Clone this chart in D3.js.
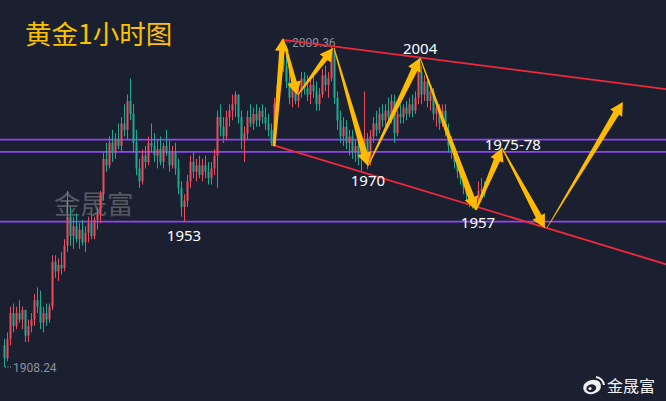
<!DOCTYPE html>
<html><head><meta charset="utf-8">
<script src="https://cdn.jsdelivr.net/npm/d3@7"></script>
<style>html,body{margin:0;padding:0;background:#1b2030;}svg{display:block}</style>
</head><body><svg id="c" width="666" height="401"></svg>
<script>
// ---- data (hourly gold candles) ----
const opens=[1915,1911,1917,1925,1921,1925,1923,1926,1918,1921,1923,1929,1927,1922,1925,1923,1927,1941,1938,1940,1939,1946,1955,1949,1952,1948,1951,1947,1950,1953,1949,1954,1956,1962,1973,1971,1978,1975,1979,1977,1984,1982,1991,1987,1978,1970,1966,1974,1972,1978,1977,1974,1976,1972,1977,1975,1971,1975,1970,1964,1958,1960,1966,1972,1969,1971,1968,1971,1969,1967,1970,1974,1986,1983,1980,1986,1988,1990,1993,1986,1979,1981,1986,1984,1987,1985,1988,1986,1984,1982,1978,1990,1996,2004,2002,1997,1992,1995,1991,1994,1998,1995,1993,1996,1994,1990,1993,1999,1996,1998,2006,1992,1985,1980,1983,1978,1980,1975,1977,1973,1975,1979,1972,1980,1984,1982,1987,1985,1988,1986,1991,1981,1987,1986,1989,1987,1990,1988,1992,2000,1993,1997,1991,1994,1987,1989,1984,1988,1982,1977,1975,1972,1969,1967,1964,1962,1960,1958,1961,1963,1963.5];
const highs=[1917,1919,1927,1928,1927,1929,1927,1926,1923,1925,1931,1933,1932,1927,1928,1928,1943,1943,1942,1944,1948,1963,1958,1955,1956,1953,1954,1952,1955,1956,1955,1958,1963,1975,1978,1980,1982,1981,1984,1986,1990,1993,1998,1990,1982,1973,1976,1977,1980,1984,1981,1979,1980,1978,1982,1979,1977,1978,1973,1966,1962,1968,1974,1975,1973,1974,1973,1974,1972,1972,1976,1988,1990,1986,1988,1990,1993,1994,1993,1988,1983,1988,1990,1989,1990,1989,1990,1989,1987,1984,1992,1998,2006,2009.36,2005,2001,1998,1997,1996,2000,2000,1999,1998,1999,1997,1995,2001,2002,2000,2008,2007,1994,1988,1986,1985,1982,1982,1979,1980,1976,1994,1981,1982,1986,1988,1989,1990,1990,1992,1993,1993,1988,1990,1990,1991,1992,1993,1994,2004,2002,1999,1998,1996,1995,1991,1990,1990,1990,1984,1980,1977,1974,1971,1969,1966,1964,1962,1960,1966,1967,1966];
const lows=[1908.24,1910,1915,1919,1920,1922,1920,1916,1916,1919,1921,1925,1920,1919,1921,1922,1926,1936,1935,1937,1938,1944,1946,1945,1947,1945,1946,1944,1947,1948,1948,1951,1953,1960,1969,1970,1972,1973,1976,1975,1980,1979,1985,1975,1968,1964,1965,1970,1971,1975,1972,1970,1971,1970,1974,1969,1970,1968,1962,1955,1953.4,1958,1964,1967,1966,1967,1966,1967,1965,1965,1968,1964,1980,1978,1979,1983,1985,1986,1984,1976,1972,1979,1983,1982,1983,1983,1984,1982,1980,1977,1977,1988,1994,2000,1995,1990,1989,1990,1989,1992,1993,1991,1990,1992,1988,1988,1992,1994,1992,1997,1990,1982,1978,1977,1976,1974,1973,1972,1971,1969,1972,1969.8,1971,1978,1980,1981,1983,1982,1985,1984,1978,1980,1984,1984,1985,1986,1986,1987,1990,1990,1991,1989,1988,1985,1983,1982,1983,1980,1975,1973,1970,1967,1965,1962,1960,1958,1957.5,1957,1959,1962,1961];
const closes=[1911,1917,1925,1921,1925,1923,1926,1918,1921,1923,1929,1927,1922,1925,1923,1927,1941,1938,1940,1939,1946,1955,1949,1952,1948,1951,1947,1950,1953,1949,1954,1956,1962,1973,1971,1978,1975,1979,1977,1984,1982,1991,1987,1978,1970,1966,1974,1972,1978,1977,1974,1976,1972,1977,1975,1971,1975,1970,1964,1958,1960,1966,1972,1969,1971,1968,1971,1969,1967,1970,1974,1986,1983,1980,1986,1988,1990,1993,1986,1979,1981,1986,1984,1987,1985,1988,1986,1984,1982,1978,1990,1996,2004,2002,1997,1992,1995,1991,1994,1998,1995,1993,1996,1994,1990,1993,1999,1996,1998,2006,1992,1985,1980,1983,1978,1980,1975,1977,1973,1975,1979,1972,1980,1984,1982,1987,1985,1988,1986,1991,1981,1987,1986,1989,1987,1990,1988,1992,2000,1993,1997,1991,1994,1987,1989,1984,1988,1982,1977,1975,1972,1969,1967,1964,1962,1960,1958,1961,1963,1963.5,1962];
const levels=[1979,1975.2,1953.5];
const channelUpper=[[93,2010],[220.7,1994.7]];
const channelLower=[[89.7,1977.3],[220.7,1940.2]];
// [fromIndex, fromPrice, toIndex, toPrice, startWidth, endWidth]
const arrows=[
 [90,1977,93,2010.6,3,5.5],
 [93.7,2008.4,97.7,1992.9,2,5.5],
 [98,1993,109.7,2007.5,1,5.5],
 [110,2007.5,121.3,1970.8,1,6.5],
 [121.3,1970.8,138.7,2004.4,1,6.5],
 [138.7,2004.4,157.3,1957.1,1,6.5],
 [157.3,1957.1,166,1976.4,2,6.5],
 [166,1976.4,180.3,1951.5,1,6.5],
 [181,1951.5,206.3,1990.7,0.5,6.5]
];
const labels=[["2004",138.7,2004.4,-8],["1970",121.3,1970.8,16],["1975-78",169.6,1976.4,-2],["1957",158,1957.1,14],["1953",60,1953.4,15]];
const title="黄金1小时图", brand="金晟富";

// ---- drawing ----
const W=666,H=401;
const svg=d3.select("#c");
svg.append("rect").attr("width",W).attr("height",H).attr("fill","#1b2030");
const x=d3.scaleLinear().domain([-1.33,220.67]).range([0,W]);
const y=d3.scaleLinear().domain([1908.24,2009.36]).range([367,42]);
const idx=d3.range(opens.length);

// watermark
svg.append("text").attr("x",54).attr("y",214).text(brand)
  .attr("font-family","Noto Sans CJK SC").attr("font-size",26.5)
  .attr("fill","#6a6d73").attr("opacity",0.75);

// levels
svg.selectAll(".lv").data(levels).join("line")
  .attr("x1",0).attr("x2",W).attr("y1",d=>y(d)).attr("y2",d=>y(d))
  .attr("stroke","#8f45f5").attr("stroke-width",1.8);

// candles
const up="#ec4b5b",dn="#1faa90";
const g=svg.append("g");
g.selectAll(".w").data(idx).join("line")
  .attr("x1",i=>Math.round(x(i))+0.5).attr("x2",i=>Math.round(x(i))+0.5)
  .attr("y1",i=>y(highs[i])).attr("y2",i=>y(lows[i]))
  .attr("stroke",i=>closes[i]>=opens[i]?up:dn).attr("stroke-width",1);
g.selectAll(".b").data(idx).join("rect")
  .attr("x",i=>Math.round(x(i))-0.5).attr("width",2)
  .attr("y",i=>y(Math.max(opens[i],closes[i])))
  .attr("height",i=>Math.max(1,Math.abs(y(opens[i])-y(closes[i]))))
  .attr("fill",i=>closes[i]>=opens[i]?up:dn);

// high / low markers
const hiI=d3.maxIndex(highs), loI=d3.minIndex(lows);
function mark(i,p,txt){
  const px=x(i), py=y(p);
  svg.append("line").attr("x1",px+1).attr("x2",px+8).attr("y1",py).attr("y2",py)
    .attr("stroke","#9aa0aa").attr("stroke-width",1).attr("stroke-dasharray","1,1.5");
  svg.append("text").attr("x",px+9).attr("y",py+4.5).text(txt)
    .attr("font-family","Roboto, Noto Sans").attr("font-size",12).attr("fill","#8c919b");
}
mark(hiI,highs[hiI],highs[hiI].toFixed(2));
mark(loI,lows[loI],lows[loI].toFixed(2));

// channel lines
[channelUpper,channelLower].forEach(c=>{
  svg.append("line").attr("x1",x(c[0][0])).attr("y1",y(c[0][1]))
    .attr("x2",x(c[1][0])).attr("y2",y(c[1][1]))
    .attr("stroke","#f0283c").attr("stroke-width",1.8);
});

// arrows
function arrowPath(a){
  const x0=x(a[0]),y0=y(a[1]),x1=x(a[2]),y1=y(a[3]);
  const dx=x1-x0,dy=y1-y0,L=Math.hypot(dx,dy),ux=dx/L,uy=dy/L,nx=-uy,ny=ux;
  const hl=13,hw=7;
  const bx=x1-ux*hl,by=y1-uy*hl;
  const p=[[x0+nx*a[4]/2,y0+ny*a[4]/2],[bx+nx*a[5]/2,by+ny*a[5]/2],[bx+nx*hw,by+ny*hw],[x1,y1],
    [bx-nx*hw,by-ny*hw],[bx-nx*a[5]/2,by-ny*a[5]/2],[x0-nx*a[4]/2,y0-ny*a[4]/2]];
  return "M"+p.map(q=>q.join(",")).join("L")+"Z";
}
svg.selectAll(".ar").data(arrows).join("path").attr("d",arrowPath).attr("fill","#ffbb00");

// labels
svg.selectAll(".lb").data(labels).join("text")
  .attr("x",d=>x(d[1])).attr("y",d=>y(d[2])+d[3]).attr("text-anchor","middle")
  .attr("dominant-baseline","middle").text(d=>d[0])
  .attr("font-family","Noto Sans, sans-serif").attr("font-size",15).attr("fill","#ffffff");

// title
svg.append("text").attr("x",25).attr("y",44).text(title)
  .attr("font-family","Noto Sans CJK SC").attr("font-size",26.5).attr("fill","#fcc200");

// weibo logo + brand
const wb=svg.append("g").attr("transform","translate(592,387)");
wb.append("ellipse").attr("rx",9).attr("ry",7).attr("fill","#f2f2f2").attr("transform","rotate(-15)");
wb.append("ellipse").attr("cx",-1).attr("cy",1).attr("rx",5).attr("ry",3.8).attr("fill","#1b2030").attr("transform","rotate(-15)");
wb.append("circle").attr("cx",-2).attr("cy",1.5).attr("r",1.5).attr("fill","#f2f2f2");
wb.append("path").attr("d","M4,-10 A9,9 0 0 1 12,-2").attr("fill","none").attr("stroke","#f2f2f2").attr("stroke-width",2);
wb.append("path").attr("d","M4,-6 A5,5 0 0 1 8,-2").attr("fill","none").attr("stroke","#f2f2f2").attr("stroke-width",1.6);
svg.append("text").attr("x",607).attr("y",392).text(brand)
  .attr("font-family","Noto Sans CJK SC").attr("font-size",16).attr("fill","#f2f2f2");
</script></body></html>
